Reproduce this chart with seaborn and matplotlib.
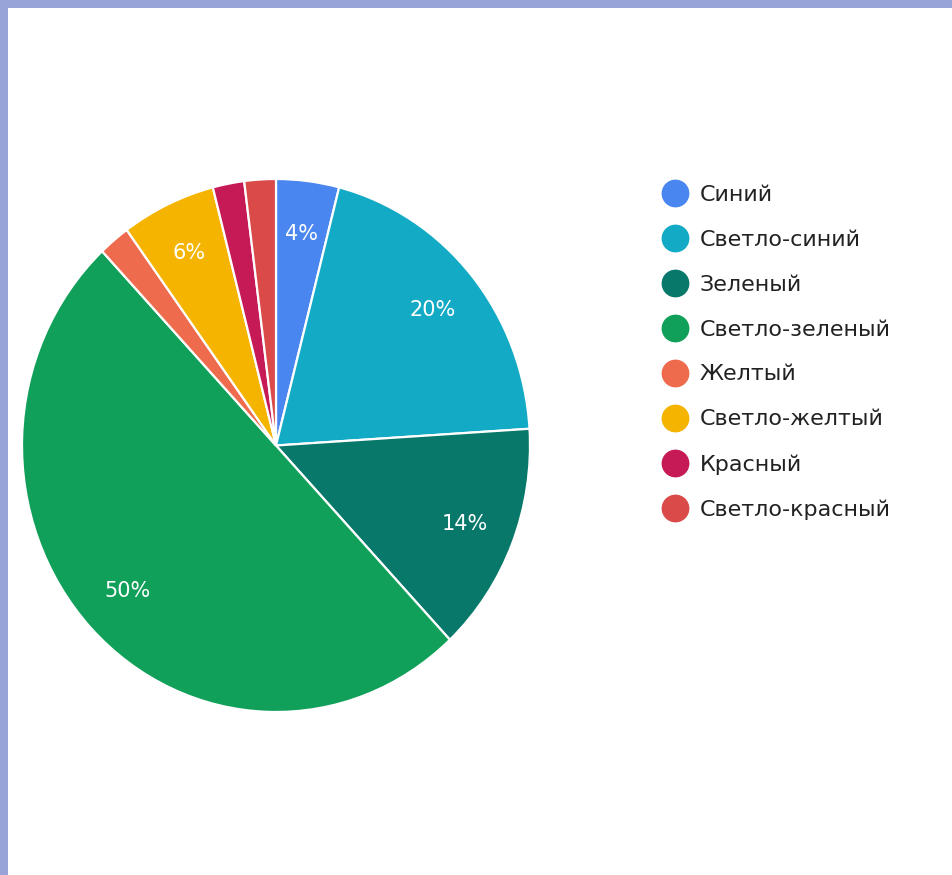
import numpy as np
import pandas as pd
import matplotlib
matplotlib.use("Agg")
import matplotlib.pyplot as plt
import seaborn as sns
from matplotlib.patches import Rectangle
from matplotlib.lines import Line2D

# data
labels = ["Синий", "Светло-синий", "Зеленый", "Светло-зеленый",
          "Желтый", "Светло-желтый", "Красный", "Светло-красный"]
shares = [4, 20, 14, 50, 2, 6, 2, 2]
colors = ["#4a86ef", "#12aac4", "#08786a", "#11a05a",
          "#ee6b4d", "#f4b400", "#c61a57", "#d94a48"]

sns.set_theme(style="white")
plt.rcParams["font.family"] = ["DejaVu Sans"]

W, H = 953, 875
fig = plt.figure(figsize=(W / 100, H / 100), dpi=100)
fig.patch.set_facecolor("#98a4d8")
# white slide area with a thin bluish border top/left
fig.patches.append(Rectangle((8 / W, 0), 1, (H - 8) / H, transform=fig.transFigure,
                             facecolor="white", edgecolor="none", zorder=-10))

# pie box (slightly stretched vertically, like the screenshot)
ax = fig.add_axes([22 / W, (H - 712) / H, 508 / W, 533 / H])
ax.patch.set_alpha(0)
wedges, _ = ax.pie(shares, colors=colors, startangle=90, counterclock=False,
                   wedgeprops=dict(edgecolor="white", linewidth=1.6))
ax.set_aspect("auto")
ax.set_xlim(-1, 1)
ax.set_ylim(-1, 1)
ax.axis("off")

# percent labels (skip the tiny slices)
for w, v in zip(wedges, shares):
    if v < 3:
        continue
    ang = np.deg2rad((w.theta1 + w.theta2) / 2)
    ax.text(0.8 * np.cos(ang), 0.8 * np.sin(ang), f"{v}%", color="white",
            fontsize=15, ha="center", va="center")

# legend
handles = [Line2D([0], [0], marker="o", linestyle="none", markersize=19,
                  markerfacecolor=c, markeredgecolor=c) for c in colors]
fig.legend(handles, labels, loc="upper left", bbox_to_anchor=(653 / W, 1 - 176 / H),
           frameon=False, fontsize=16, labelspacing=1.12, handletextpad=0.5,
           handlelength=1.2, labelcolor="#222222", borderaxespad=0)

fig.savefig("out.png", dpi=100, facecolor=fig.get_facecolor())
